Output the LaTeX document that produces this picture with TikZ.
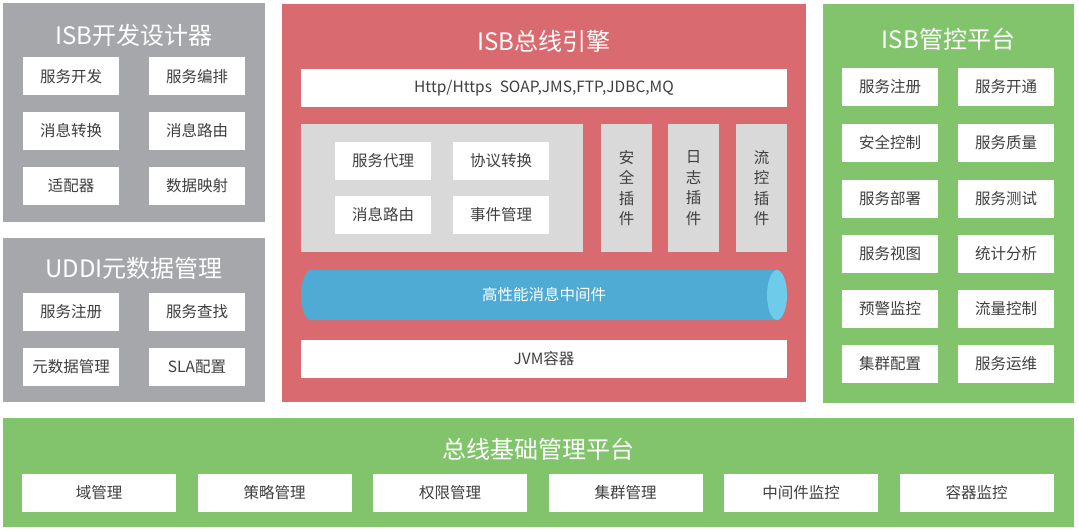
\documentclass[tikz,border=0pt]{standalone}
\usepackage{fontspec}
\setmainfont{Noto Sans CJK SC}
\definecolor{panelgray}{HTML}{A6A7AA}
\definecolor{panelred}{HTML}{D96A6F}
\definecolor{panelgreen}{HTML}{82C46C}
\definecolor{lightgray}{HTML}{D9D9D9}
\definecolor{tubeblue}{HTML}{4FABD4}
\definecolor{tubecap}{HTML}{6ECBE9}
\definecolor{txt}{HTML}{3F3F3F}
\tikzset{
  panel/.style={draw=none, inner sep=0, outer sep=0},
  ptitle/.style={text=white, font=\fontsize{24}{28}\selectfont, inner sep=0},
  wbox/.style={fill=white, draw=none, inner sep=0, minimum width=96, minimum height=38, text=txt, font=\fontsize{15.5}{18}\selectfont},
  gbox/.style={fill=lightgray, draw=none, inner sep=0, text=txt, font=\fontsize{15.5}{18}\selectfont},
  plug/.style={gbox, minimum width=51, minimum height=128, align=center, font=\fontsize{15.5}{20.5}\selectfont},
  bbox/.style={wbox, minimum width=154},
}
\begin{document}
\begin{tikzpicture}[x=1pt,y=-1pt]
\useasboundingbox (0,0) rectangle (1079,532);
% ---------- left top panel
\node[panel, fill=panelgray, minimum width=262, minimum height=219] (dev) at (134,112.5) {};
\node[ptitle] (devT) at (134,35) {ISB开发设计器};
\node[wbox] (d1) at (71,76.5) {服务开发};
\node[wbox] (d2) at (197,76.5) {服务编排};
\node[wbox] (d3) at (71,131) {消息转换};
\node[wbox] (d4) at (197,131) {消息路由};
\node[wbox] (d5) at (71,186) {适配器};
\node[wbox] (d6) at (197,186) {数据映射};
% ---------- UDDI panel
\node[panel, fill=panelgray, minimum width=262, minimum height=164] (uddi) at (134,320) {};
\node[ptitle] (uddiT) at (134,268) {UDDI元数据管理};
\node[wbox] (u1) at (71,312) {服务注册};
\node[wbox] (u2) at (197,312) {服务查找};
\node[wbox] (u3) at (71,366.5) {元数据管理};
\node[wbox] (u4) at (197,366.5) {SLA配置};
% ---------- red engine panel
\node[panel, fill=panelred, minimum width=524, minimum height=398] (eng) at (544,203) {};
\node[ptitle] (engT) at (544,41) {ISB总线引擎};
\node[wbox, minimum width=486] (proto) at (544,88) {Http/Https\enspace SOAP,JMS,FTP,JDBC,MQ};
\node[gbox, minimum width=282, minimum height=128] (core) at (442,188) {};
\node[wbox] (c1) at (383,161) {服务代理};
\node[wbox] (c2) at (501,161) {协议转换};
\node[wbox] (c3) at (383,214.5) {消息路由};
\node[wbox] (c4) at (501,214.5) {事件管理};
\node[plug] (p1) at (626.5,188) {安\\全\\插\\件};
\node[plug] (p2) at (693.5,188) {日\\志\\插\\件};
\node[plug] (p3) at (761.5,188) {流\\控\\插\\件};
% cylinder
\fill[tubeblue] (311,270) -- (777,270) -- (777,320) -- (311,320)
  arc[start angle=270, end angle=90, x radius=10, y radius=-25] -- cycle;
\fill[tubecap] (777,295) ellipse[x radius=10, y radius=25];
\node[text=white, font=\fontsize{15.5}{18}\selectfont, inner sep=0] (mq) at (544,295) {高性能消息中间件};
\node[wbox, minimum width=486] (jvm) at (544,359) {JVM容器};
% ---------- right green panel
\node[panel, fill=panelgreen, minimum width=251, minimum height=399] (ctl) at (948.5,203.5) {};
\node[ptitle] (ctlT) at (948.5,39) {ISB管控平台};
\node[wbox] (g1) at (890,87) {服务注册};
\node[wbox] (g2) at (1006,87) {服务开通};
\node[wbox] (g3) at (890,143) {安全控制};
\node[wbox] (g4) at (1006,143) {服务质量};
\node[wbox] (g5) at (890,198.5) {服务部署};
\node[wbox] (g6) at (1006,198.5) {服务测试};
\node[wbox] (g7) at (890,254) {服务视图};
\node[wbox] (g8) at (1006,254) {统计分析};
\node[wbox] (g9) at (890,309) {预警监控};
\node[wbox] (g10) at (1006,309) {流量控制};
\node[wbox] (g11) at (890,364) {集群配置};
\node[wbox] (g12) at (1006,364) {服务运维};
% ---------- bottom panel
\node[panel, fill=panelgreen, minimum width=1071, minimum height=109] (base) at (538.5,472.5) {};
\node[ptitle] (baseT) at (538.5,449) {总线基础管理平台};
\node[bbox] (b1) at (99,492.5) {域管理};
\node[bbox] (b2) at (274.5,492.5) {策略管理};
\node[bbox] (b3) at (450,492.5) {权限管理};
\node[bbox] (b4) at (625.5,492.5) {集群管理};
\node[bbox] (b5) at (801,492.5) {中间件监控};
\node[bbox] (b6) at (976.5,492.5) {容器监控};
\end{tikzpicture}
\end{document}
